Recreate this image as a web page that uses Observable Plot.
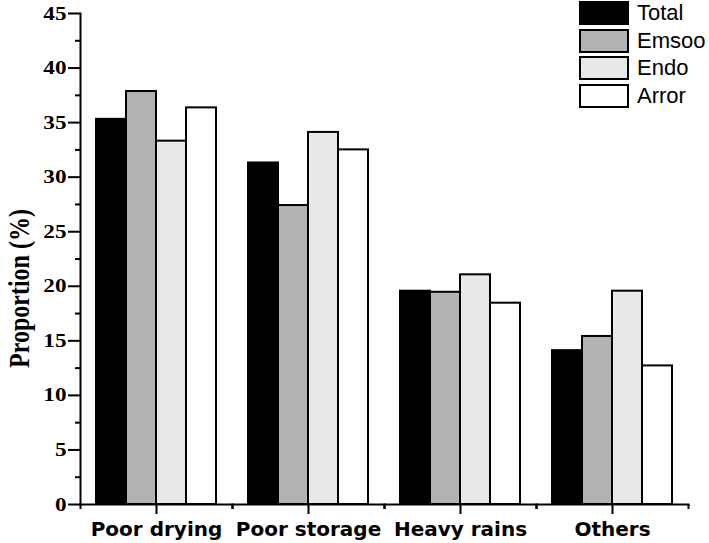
<!DOCTYPE html>
<html><head><meta charset="utf-8">
<script src="https://cdn.jsdelivr.net/npm/d3@7"></script>
<script src="https://cdn.jsdelivr.net/npm/@observablehq/plot@0.6"></script>
<style>
body{margin:0;background:#fff}
#wrap{position:relative;width:709px;height:543px}
#wrap svg{display:block}
.legend{position:absolute;left:579px;top:1px;font-family:"Liberation Sans",Arial,sans-serif;font-size:22px;color:#000}
.row{display:flex;align-items:center;height:24px;margin-bottom:3.7px}
.sw{box-sizing:border-box;width:50px;height:24px;border:2px solid #000;margin-right:8px}
</style></head><body><div id="wrap"></div>
<script>
const categories = ["Poor drying", "Poor storage", "Heavy rains", "Others"];
const series = ["Total", "Emsoo", "Endo", "Arror"];
const total = [35.3, 31.3, 19.55, 14.1];
const emsoo = [37.85, 27.4, 19.45, 15.4];
const endo = [33.3, 34.1, 21.05, 19.55];
const arror = [36.35, 32.5, 18.45, 12.7];
const colors = ["#000000", "#b3b3b3", "#e8e8e8", "#ffffff"];
const yTicks = d3.range(0, 46, 5);
const yMinor = d3.range(2.5, 45, 5);
const yTitle = "Proportion (%)";

const seriesValues = [total, emsoo, endo, arror];
const rows = categories.flatMap((c, i) => series.map((s, j) => ({category: c, series: s, value: seriesValues[j][i]})));

const W = 709, H = 543, ml = 80, mr = 21, mt = 13, mb = 39;
const half = (W - ml - mr) / categories.length / 2;

const chart = Plot.plot({
  width: W, height: H,
  marginLeft: ml, marginRight: mr, marginTop: mt, marginBottom: mb,
  style: {background: "#fff", overflow: "visible", color: "#000"},
  fx: {domain: categories, padding: 0, label: null, axis: null},
  x: {domain: series, paddingInner: 0, paddingOuter: 0.5, axis: null},
  y: {domain: [0, 45], label: null},
  color: {domain: series, range: colors},
  marks: [
    Plot.barY(rows, {fx: "category", x: "series", y: "value", fill: "series", stroke: "#000", strokeWidth: 2}),
    Plot.axisY(yTicks, {tickSize: 12, tickPadding: 2, strokeWidth: 2, fontSize: 19, fontWeight: "bold", fontFamily: "Liberation Serif", label: null}),
    Plot.axisY(yMinor, {tickSize: 5, text: null, strokeWidth: 2, label: null}),
    Plot.frame({anchor: "left", strokeWidth: 2, facetAnchor: "left"}),
    Plot.frame({anchor: "bottom", strokeWidth: 2}),
    Plot.axisFx({anchor: "bottom", tickSize: 10, tickPadding: 7, strokeWidth: 2, fontSize: 20, fontWeight: "bold", fontFamily: "DejaVu Sans", label: null}),
    Plot.axisFx({anchor: "bottom", tickSize: 5, text: null, strokeWidth: 2, dx: -half, label: null}),
    Plot.axisFx(categories.slice(-1), {anchor: "bottom", tickSize: 5, text: null, strokeWidth: 2, dx: half, label: null})
  ]
});

const wrap = document.getElementById("wrap");
wrap.appendChild(chart);

// widen the serif tick labels like the reference
d3.select(chart).selectAll('[aria-label="y-axis tick label"] text').each(function() {
  const w = this.getComputedTextLength();
  this.setAttribute("textLength", w * 1.22);
  this.setAttribute("lengthAdjust", "spacingAndGlyphs");
});

// y-axis title
d3.select(chart).append("text")
  .attr("transform", `translate(22,${(mt + H - mb) / 2 + 30}) rotate(-90) scale(1,1.2)`)
  .attr("text-anchor", "middle")
  .attr("dominant-baseline", "middle")
  .attr("font-family", "Liberation Serif")
  .attr("font-weight", "bold")
  .attr("font-size", 24)
  .attr("fill", "#000")
  .text(yTitle);

const legend = document.createElement("div");
legend.className = "legend";
series.forEach((s, j) => {
  const row = document.createElement("div");
  row.className = "row";
  const sw = document.createElement("div");
  sw.className = "sw";
  sw.style.background = colors[j];
  const t = document.createElement("span");
  t.textContent = s;
  row.appendChild(sw); row.appendChild(t);
  legend.appendChild(row);
});
wrap.appendChild(legend);
</script></body></html>
